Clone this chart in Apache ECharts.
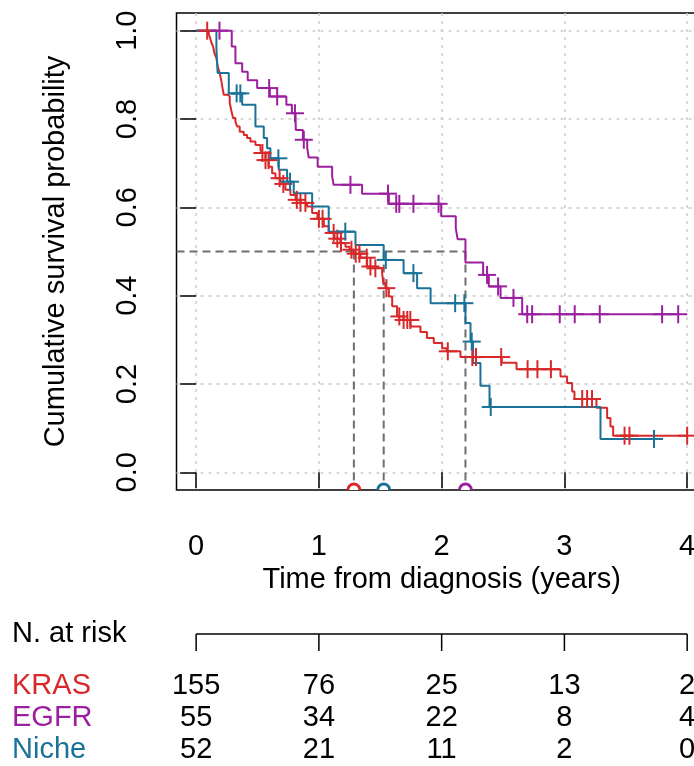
<!DOCTYPE html>
<html>
<head>
<meta charset="utf-8">
<script src="https://cdn.jsdelivr.net/npm/echarts@6/dist/echarts.min.js"></script>
<style>
html, body { margin: 0; padding: 0; background: #fff; }
#main { width: 694px; height: 766px; }
</style>
</head>
<body>
<div id="main"></div>
<script>
// groups + colours
var groups = ['KRAS', 'EGFR', 'Niche'];
var colors = ['#d8282a', '#9b1f9f', '#1a7299'];

// KRAS: event times and survival just after each event
var kras_t = [0.103, 0.111, 0.122, 0.138, 0.149, 0.165, 0.176, 0.192, 0.204, 0.215, 0.225, 0.257, 0.274, 0.285, 0.301, 0.32, 0.334, 0.355, 0.388, 0.415, 0.442, 0.483, 0.524, 0.538, 0.565, 0.591, 0.619, 0.646, 0.687, 0.727, 0.768, 0.81, 0.85, 0.904, 0.945, 0.988, 1.04, 1.08, 1.127, 1.175, 1.216, 1.25, 1.285, 1.339, 1.393, 1.436, 1.515, 1.525, 1.542, 1.57, 1.597, 1.637, 1.69, 1.746, 1.827, 1.88, 1.936, 2.004, 2.04, 2.153, 2.49, 2.61, 2.968, 3.022, 3.063, 3.082, 3.261, 3.348, 3.375, 3.397];
var kras_s = [0.991, 0.986, 0.975, 0.964, 0.949, 0.938, 0.919, 0.904, 0.888, 0.870, 0.855, 0.851, 0.836, 0.821, 0.802, 0.794, 0.783, 0.771, 0.764, 0.757, 0.749, 0.741, 0.730, 0.723, 0.707, 0.692, 0.677, 0.666, 0.653, 0.640, 0.628, 0.617, 0.610, 0.602, 0.587, 0.574, 0.557, 0.542, 0.529, 0.519, 0.511, 0.504, 0.495, 0.486, 0.466, 0.462, 0.451, 0.428, 0.417, 0.398, 0.376, 0.353, 0.345, 0.330, 0.318, 0.304, 0.293, 0.281, 0.274, 0.261, 0.248, 0.2335, 0.217, 0.202, 0.183, 0.166, 0.146, 0.123, 0.104, 0.083];
var kras_cens = [0.09, 0.54, 0.565, 0.59, 0.68, 0.71, 0.82, 0.85, 0.89, 1.0, 1.03, 1.12, 1.15, 1.18, 1.265, 1.3, 1.33, 1.39, 1.42, 1.46, 1.55, 1.655, 1.69, 1.72, 1.745, 2.05, 2.25, 2.28, 2.485, 2.70, 2.78, 2.89, 3.145, 3.185, 3.225, 3.49, 3.53, 4.0];

// EGFR
var egfr_t = [0.29, 0.32, 0.375, 0.42, 0.497, 0.6, 0.735, 0.78, 0.81, 0.812, 0.87, 0.905, 0.917, 0.99, 1.108, 1.12, 1.352, 1.57, 1.996, 2.115, 2.13, 2.194, 2.338, 2.384, 2.48, 2.656];
var egfr_s = [0.964, 0.926, 0.907, 0.888, 0.870, 0.851, 0.832, 0.813, 0.794, 0.775, 0.753, 0.734, 0.713, 0.692, 0.670, 0.651, 0.631, 0.608, 0.580, 0.553, 0.528, 0.475, 0.447, 0.421, 0.395, 0.358];
var egfr_cens = [0.19, 0.595, 0.66, 0.805, 0.877, 1.257, 1.563, 1.63, 1.655, 1.77, 1.975, 2.37, 2.46, 2.585, 2.697, 2.737, 2.962, 3.084, 3.288, 3.796, 3.927];

// Niche
var niche_t = [0.165, 0.175, 0.266, 0.375, 0.483, 0.551, 0.578, 0.605, 0.673, 0.741, 0.795, 0.945, 1.08, 1.298, 1.528, 1.69, 1.80, 1.91, 2.194, 2.235, 2.255, 2.316, 2.39, 3.294];
var niche_s = [0.96, 0.904, 0.858, 0.832, 0.783, 0.757, 0.734, 0.711, 0.685, 0.658, 0.632, 0.602, 0.545, 0.515, 0.481, 0.451, 0.417, 0.383, 0.338, 0.296, 0.2475, 0.196, 0.148, 0.0756];
var niche_cens = [0.33, 0.36, 0.67, 0.765, 1.215, 1.545, 1.77, 2.11, 2.185, 2.245, 2.40, 3.73];

// number at risk table
var riskTimes = [0, 1, 2, 3, 4];
var risk_kras = [155, 76, 25, 13, 2];
var risk_egfr = [55, 34, 22, 8, 4];
var risk_niche = [52, 21, 11, 2, 0];

var xTicks = [0, 1, 2, 3, 4];
var yTicks = [0, 0.2, 0.4, 0.6, 0.8, 1.0];

var XMIN = -0.16, XMAX = 4.16, YMIN = -0.04, YMAX = 1.04;
var FONT = 'Liberation Sans, Arial, Helvetica, sans-serif';
var FS = 29;

var allT = [kras_t, egfr_t, niche_t];
var allS = [kras_s, egfr_s, niche_s];
var allC = [kras_cens, egfr_cens, niche_cens];
var allRisk = [risk_kras, risk_egfr, risk_niche];

function survAt(t, s, x) {
    var v = 1;
    for (var i = 0; i < t.length; i++) {
        if (t[i] <= x) v = s[i];
    }
    return v;
}

function stepData(t, s, cens) {
    var d = [[0, 1]];
    for (var i = 0; i < t.length; i++) d.push([t[i], s[i]]);
    var end = Math.max(t[t.length - 1], cens[cens.length - 1]);
    d.push([end, s[s.length - 1]]);
    return d;
}

function median(t, s) {
    for (var i = 0; i < t.length; i++) {
        if (s[i] <= 0.5) return t[i];
    }
    return null;
}

var medians = [];
for (var g = 0; g < 3; g++) medians.push(median(allT[g], allS[g]));
var maxMed = Math.max.apply(null, medians);

var series = [];

// median guide lines (dashed grey)
var dashStyle = { color: '#6e6e6e', width: 2, type: [8, 5] };
series.push({
    type: 'line', data: [[XMIN, 0.5], [maxMed, 0.5]], symbol: 'none',
    lineStyle: dashStyle, silent: true, z: 2
});
for (var g = 0; g < 3; g++) {
    series.push({
        type: 'line', data: [[medians[g], 0.5], [medians[g], YMIN]], symbol: 'none',
        lineStyle: dashStyle, silent: true, z: 2
    });
}

// survival curves + censor marks
for (var g = 0; g < 3; g++) {
    series.push({
        name: groups[g], type: 'line', step: 'end', symbol: 'none',
        data: stepData(allT[g], allS[g], allC[g]),
        lineStyle: { color: colors[g], width: 2 }, z: 3
    });
    var cdata = [];
    for (var i = 0; i < allC[g].length; i++) {
        var c = allC[g][i];
        cdata.push([c, survAt(allT[g], allS[g], c)]);
    }
    (function (col) {
        series.push({
            type: 'custom', data: cdata, z: 4, clip: true,
            encode: { x: 0, y: 1 },
            renderItem: function (params, api) {
                var p = api.coord([api.value(0), api.value(1)]);
                var h = 9;
                return {
                    type: 'group', children: [
                        { type: 'line', shape: { x1: p[0] - h, y1: p[1], x2: p[0] + h, y2: p[1] }, style: { stroke: col, lineWidth: 2 } },
                        { type: 'line', shape: { x1: p[0], y1: p[1] - h, x2: p[0], y2: p[1] + h }, style: { stroke: col, lineWidth: 2 } }
                    ]
                };
            }
        });
    })(colors[g]);
}

// median markers on the bottom edge
var medData = [];
for (var g = 0; g < 3; g++) medData.push([medians[g], YMIN, g]);
series.push({
    type: 'custom', data: medData, z: 5, clip: true,
    encode: { x: 0, y: 1 },
    renderItem: function (params, api) {
        var p = api.coord([api.value(0), api.value(1)]);
        return {
            type: 'circle', shape: { cx: p[0], cy: p[1], r: 6 },
            style: { fill: '#fff', stroke: colors[api.value(2)], lineWidth: 3 }
        };
    }
});

var chart = echarts.init(document.getElementById('main'), null, { renderer: 'canvas' });

var option = {
    animation: false,
    backgroundColor: '#fff',
    grid: {
        left: 176.5, top: 13, width: 530.3, height: 477,
        outerBoundsMode: 'none', containLabel: false,
        show: true, borderColor: '#000', borderWidth: 1.5, backgroundColor: 'transparent'
    },
    xAxis: {
        type: 'value', min: XMIN, max: XMAX,
        name: 'Time from diagnosis (years)', nameLocation: 'middle', nameGap: 74,
        nameTextStyle: { fontSize: FS, color: '#000', fontFamily: FONT },
        axisLine: { show: false },
        axisTick: { show: true, length: 16, customValues: xTicks, lineStyle: { color: '#000', width: 1.5 } },
        axisLabel: { customValues: xTicks, fontSize: FS, color: '#000', fontFamily: FONT, margin: 42 },
        splitLine: { show: true, lineStyle: { color: '#cccccc', width: 1.5, type: [3, 5] } }
    },
    yAxis: {
        type: 'value', min: YMIN, max: YMAX,
        name: 'Cumulative survival probability', nameLocation: 'middle', nameGap: 106,
        nameTextStyle: { fontSize: FS, color: '#000', fontFamily: FONT },
        axisLine: { show: false },
        axisTick: { show: true, length: 16, customValues: yTicks, lineStyle: { color: '#000', width: 1.5 } },
        axisLabel: {
            customValues: yTicks, fontSize: FS, color: '#000', fontFamily: FONT, margin: 34, rotate: 90,
            formatter: function (v) { return v.toFixed(1); }
        },
        splitLine: { show: true, lineStyle: { color: '#cccccc', width: 1.5, type: [3, 5] } }
    },
    series: series
};
chart.setOption(option);

// number at risk table, placed with the x scale
var px = riskTimes.map(function (t) { return chart.convertToPixel({ xAxisIndex: 0 }, t); });
var bracketY = 634, tickLen = 17;
var rowsY = [686, 718, 750];
var gfx = [];
gfx.push({ type: 'text', x: 12, y: 634, style: { text: 'N. at risk', fontSize: FS, fill: '#000', fontFamily: FONT, verticalAlign: 'middle', align: 'left' } });
gfx.push({ type: 'line', shape: { x1: px[0], y1: bracketY, x2: px[px.length - 1], y2: bracketY }, style: { stroke: '#000', lineWidth: 1.5 } });
for (var i = 0; i < px.length; i++) {
    gfx.push({ type: 'line', shape: { x1: px[i], y1: bracketY, x2: px[i], y2: bracketY + tickLen }, style: { stroke: '#000', lineWidth: 1.5 } });
}
for (var g = 0; g < 3; g++) {
    gfx.push({ type: 'text', x: 12, y: rowsY[g], style: { text: groups[g], fontSize: FS, fill: colors[g], fontFamily: FONT, verticalAlign: 'middle', align: 'left' } });
    for (var i = 0; i < px.length; i++) {
        gfx.push({ type: 'text', x: px[i], y: rowsY[g], style: { text: String(allRisk[g][i]), fontSize: FS, fill: '#000', fontFamily: FONT, verticalAlign: 'middle', align: 'center' } });
    }
}
chart.setOption({ graphic: gfx });
</script>
</body>
</html>
